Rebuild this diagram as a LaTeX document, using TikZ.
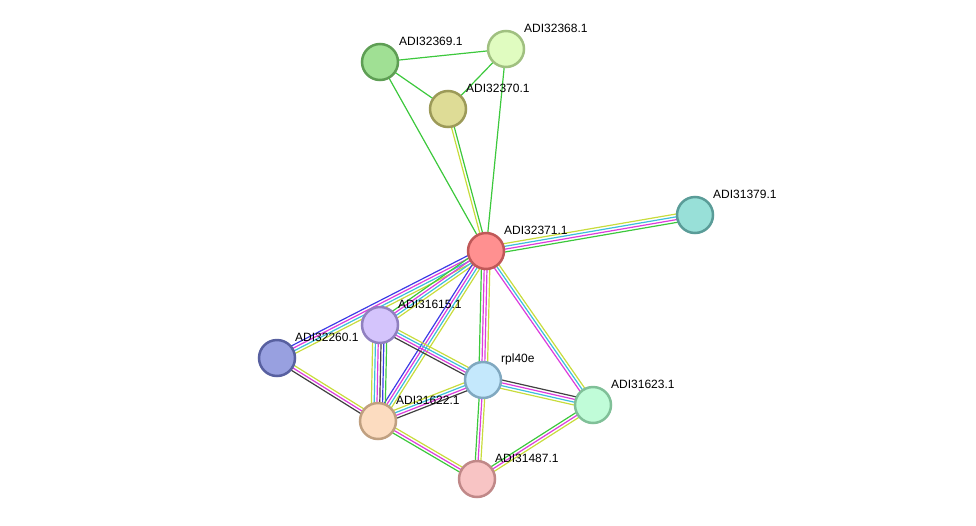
\documentclass[tikz,border=0pt]{standalone}
\usepackage{fontspec}
\setmainfont{Liberation Sans}
\usetikzlibrary{calc}
\pgfdeclarelayer{background}
\pgfsetlayers{background,main}
\definecolor{eG}{HTML}{3CC83C}
\definecolor{eY}{HTML}{C8DC3C}
\definecolor{eC}{HTML}{3CBEDC}
\definecolor{eM}{HTML}{DC3CDC}
\definecolor{eK}{HTML}{404040}
\definecolor{eB}{HTML}{3C3CE6}
\definecolor{f69}{HTML}{A0E094}\definecolor{d69}{HTML}{5E9E54}
\definecolor{f68}{HTML}{E0FCC0}\definecolor{d68}{HTML}{A0C080}
\definecolor{f70}{HTML}{DEDC96}\definecolor{d70}{HTML}{9C9A58}
\definecolor{f79}{HTML}{98E0D8}\definecolor{d79}{HTML}{5A9C98}
\definecolor{f71}{HTML}{FF9090}\definecolor{d71}{HTML}{C05858}
\definecolor{f15}{HTML}{D4C4FC}\definecolor{d15}{HTML}{9080C0}
\definecolor{f60}{HTML}{98A0E0}\definecolor{d60}{HTML}{5860A0}
\definecolor{frp}{HTML}{C4E8FC}\definecolor{drp}{HTML}{80A8C0}
\definecolor{f23}{HTML}{C0FCD8}\definecolor{d23}{HTML}{80C098}
\definecolor{f22}{HTML}{FCDCC0}\definecolor{d22}{HTML}{C0A080}
\definecolor{f87}{HTML}{F8C4C4}\definecolor{d87}{HTML}{C08888}
\newcommand\edgebundle[3]{%
  \foreach \col [count=\i] in {#3} {\xdef\nlines{\i}}%
  \foreach \col [count=\i] in {#3} {%
    \pgfmathsetmacro\off{(\i-(\nlines+1)/2)*2.8}%
    \draw[\col, line width=1.2pt] ($(#1.center)!\off pt!90:(#2.center)$) -- ($(#2.center)!\off pt!-90:(#1.center)$);
  }%
}
\tikzset{
  prot/.style 2 args={circle, minimum size=36pt, inner sep=0pt, line width=2.5pt, fill=#1, draw=#2},
  lbl/.style={anchor=west, font=\fontsize{12}{14}\selectfont, inner sep=0pt}
}
\begin{document}
\begin{tikzpicture}[x=1pt,y=-1pt]
\useasboundingbox (0,0) rectangle (976,525);
\node[prot={f69}{d69}] (n69) at (380,62) {};
\node[prot={f68}{d68}] (n68) at (506,49) {};
\node[prot={f70}{d70}] (n70) at (448,109) {};
\node[prot={f79}{d79}] (n79) at (695,215) {};
\node[prot={f71}{d71}] (n71) at (486,251) {};
\node[prot={f15}{d15}] (n15) at (380,325) {};
\node[prot={f60}{d60}] (n60) at (277,358) {};
\node[prot={frp}{drp}] (rpl) at (483,380) {};
\node[prot={f23}{d23}] (n23) at (593,405) {};
\node[prot={f22}{d22}] (n22) at (378,421) {};
\node[prot={f87}{d87}] (n87) at (477,479) {};
\node[lbl] (l69) at ($(n69.center)+(19,-21)$) {ADI32369.1};
\node[lbl] (l68) at ($(n68.center)+(18,-21)$) {ADI32368.1};
\node[lbl] (l70) at ($(n70.center)+(18,-21)$) {ADI32370.1};
\node[lbl] (l79) at ($(n79.center)+(18,-21)$) {ADI31379.1};
\node[lbl] (l71) at ($(n71.center)+(18,-21)$) {ADI32371.1};
\node[lbl] (l15) at ($(n15.center)+(18,-21)$) {ADI31615.1};
\node[lbl] (l60) at ($(n60.center)+(18,-21)$) {ADI32260.1};
\node[lbl] (lrpl) at ($(rpl.center)+(18,-21)$) {rpl40e};
\node[lbl] (l23) at ($(n23.center)+(18,-21)$) {ADI31623.1};
\node[lbl] (l22) at ($(n22.center)+(18,-21)$) {ADI31622.1};
\node[lbl] (l87) at ($(n87.center)+(18,-21)$) {ADI31487.1};
\begin{pgfonlayer}{background}
\edgebundle{n69}{n68}{eG}
\edgebundle{n69}{n70}{eG}
\edgebundle{n69}{n71}{eG}
\edgebundle{n68}{n70}{eG}
\edgebundle{n68}{n71}{eG}
\edgebundle{n70}{n71}{eY,eG}
\edgebundle{n71}{n79}{eG,eM,eC,eY}
\edgebundle{n71}{n60}{eB,eM,eC,eY}
\edgebundle{n71}{n15}{eG,eM,eC,eY}
\edgebundle{n71}{n22}{eB,eM,eC,eY}
\edgebundle{n71}{rpl}{eG,eM,eM,eY}
\edgebundle{n71}{n23}{eM,eC,eY}
\edgebundle{n15}{n22}{eY,eC,eM,eK,eB,eG}
\edgebundle{n15}{rpl}{eK,eM,eC,eY}
\edgebundle{n60}{n22}{eK,eM,eY}
\edgebundle{n22}{rpl}{eK,eM,eC,eY}
\edgebundle{n22}{n87}{eG,eM,eY}
\edgebundle{rpl}{n23}{eY,eC,eM,eK}
\edgebundle{rpl}{n87}{eG,eM,eY}
\edgebundle{n87}{n23}{eY,eM,eG}
\end{pgfonlayer}
\end{tikzpicture}
\end{document}
